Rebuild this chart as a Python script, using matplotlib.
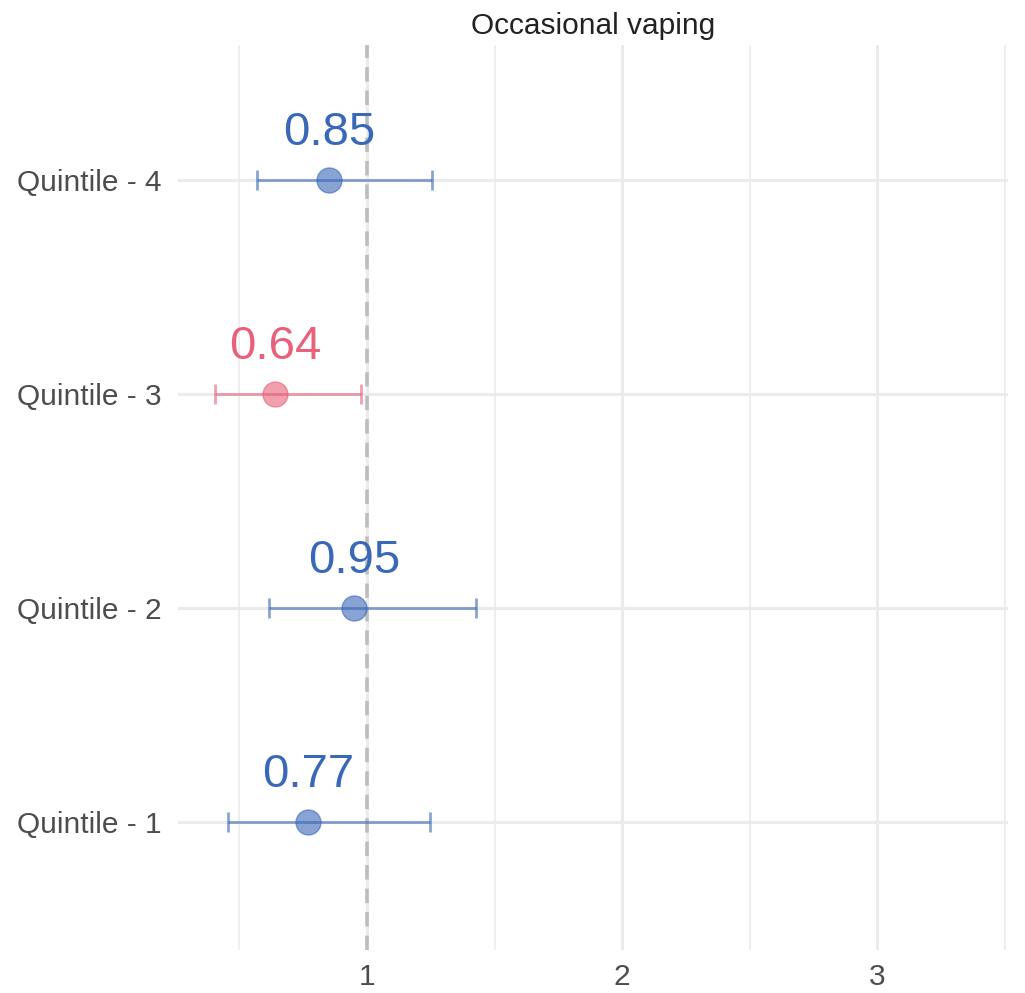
import numpy as np
import matplotlib.pyplot as plt

# data
groups = ["Quintile - 1", "Quintile - 2", "Quintile - 3", "Quintile - 4"]
estimates = [0.77, 0.95, 0.64, 0.85]
ci_low = [0.455, 0.616, 0.404, 0.569]
ci_high = [1.247, 1.427, 0.976, 1.255]
significant = [False, False, True, False]
x_ticks = [1, 2, 3]
x_minor = [0.5, 1.5, 2.5, 3.5]

blue = "#3A68B8"
red = "#E8607A"

plt.rcParams["font.family"] = ["Liberation Sans", "DejaVu Sans"]

fig = plt.figure(figsize=(10.25, 9.93), dpi=100)
ax = fig.add_axes([0.1737, 0.0433, 0.8093, 0.9114])

ypos = np.arange(1, len(groups) + 1)

# grid
for x in x_ticks:
    ax.axvline(x, color="#ebebeb", lw=2.2, zorder=0)
for x in x_minor:
    ax.axvline(x, color="#ebebeb", lw=1.2, zorder=0)
for y in ypos:
    ax.axhline(y, color="#ebebeb", lw=2.2, zorder=0)

ax.axvline(1, color="#bdbdbd", lw=2.6, ls=(0, (4, 2.5)), zorder=1)

for y, est, lo, hi, sig in zip(ypos, estimates, ci_low, ci_high, significant):
    c = red if sig else blue
    ax.errorbar(est, y, xerr=[[est - lo], [hi - est]], fmt="o", color=c,
                alpha=0.6, ms=18, lw=2, capsize=7, capthick=2, zorder=3)
    ax.annotate(f"{est:.2f}", (est, y), xytext=(0, 25),
                textcoords="offset points", ha="center", va="baseline",
                fontsize=34, color=c, zorder=4)

ax.set_xlim(0.259, 3.512)
ax.set_ylim(0.4, 4.63)
ax.set_xticks(x_ticks)
ax.set_xticklabels([str(x) for x in x_ticks])
ax.set_yticks(ypos)
ax.set_yticklabels(groups)
ax.tick_params(length=0, labelsize=21.5, labelcolor="#4d4d4d")
ax.tick_params(axis="y", pad=12)
ax.tick_params(axis="x", pad=9)
for s in ax.spines.values():
    s.set_visible(False)

ax.set_title("Occasional vaping", fontsize=21.5, color="#222222", pad=8)

plt.savefig("out.png", dpi=100)
